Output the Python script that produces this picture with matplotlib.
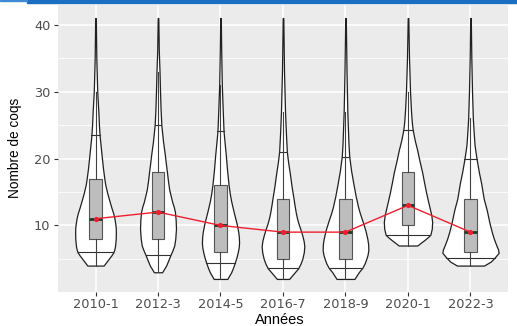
import numpy as np
import matplotlib
matplotlib.use("Agg")
import matplotlib.pyplot as plt
from matplotlib.patches import Rectangle

# ---------------- data ----------------
categories = ["2010-1", "2012-3", "2014-5", "2016-7", "2018-9", "2020-1", "2022-3"]

# violin density profiles: levels (nombre de coqs) and relative density
lev_1 = [4, 4.5, 5, 5.5, 6, 6.5, 7, 8, 8.7, 9.5, 10, 11, 11.8, 12.5, 13.2, 13.9, 14.7,
         15.5, 16.2, 17, 18.5, 20.5, 22, 23.5, 25, 27, 30, 35, 41]
den_1 = [8, 10.5, 13, 15.5, 17.7, 18.7, 19.3, 19.9, 20, 20, 19.7, 18.7, 17.5, 16, 14.6, 13.3, 11.8,
         10.5, 9.5, 8.7, 7.4, 6, 5, 4, 3.4, 2.8, 1.7, 0.8, 0.3]
lev_2 = [3, 3.5, 4, 4.8, 5.6, 6.3, 7, 8, 9.5, 10.8, 12, 12.8, 13.5, 14.5, 15.4, 16.7, 18,
         19.3, 20.6, 22.5, 25, 27.5, 30, 33, 36, 41]
den_2 = [4, 6, 8, 10.2, 12.3, 14.3, 16, 17, 17.7, 17.4, 16.7, 15.5, 14, 12.4, 11, 9.8, 8.8,
         7.7, 6.7, 5, 3.3, 2.5, 2, 1.5, 0.8, 0.3]
lev_3 = [2, 2.5, 3, 3.7, 4.4, 5.2, 6, 6.7, 7.4, 8.2, 9, 10.2, 11.1, 12, 12.9, 13.7, 14.8,
         16, 18.2, 20.4, 22.3, 24.1, 26, 28, 31, 36, 41]
den_3 = [6.7, 8.6, 10.5, 12.4, 14, 15.7, 17, 17.9, 18.3, 18.1, 17.5, 16, 14.5, 13, 11.6, 10.4, 9.1,
         8, 6.5, 5.3, 4.1, 3, 2.5, 2, 1.3, 0.7, 0.3]
lev_4 = [2, 3, 3.6, 4.3, 5, 6, 6.9, 7.7, 8.5, 9.5, 10.4, 11.2, 12, 13, 13.9, 15.8, 17.8,
         19.4, 21, 22.5, 24, 27, 30, 33, 41]
den_4 = [6, 11.6, 15, 17.3, 19, 20.5, 21, 20.3, 19, 17, 15, 13.6, 12.5, 11.4, 10.5, 8.5, 6.7,
         5.1, 3.8, 3.3, 2.8, 2, 1.5, 1, 0.3]
lev_5 = [2, 3, 3.7, 4.3, 5, 5.6, 6.3, 7.2, 8, 9.2, 10.1, 11, 11.8, 12.7, 14.4, 16.2, 18.2,
         20.3, 22, 24, 27, 30, 33, 41]
den_5 = [8.8, 13, 16.7, 18.8, 20.5, 21.7, 22.5, 22.3, 21.5, 19.7, 17.9, 16, 14.2, 12.5, 10, 7.8, 5.5,
         3.7, 3, 2.5, 1.8, 1.4, 1, 0.3]
lev_6 = [7, 7.4, 7.8, 8.2, 8.6, 9.5, 10.5, 11.5, 12.5, 13.6, 14.8, 16.3, 17.9, 19.6, 21.3,
         22.7, 24.2, 25.5, 27, 30, 35, 41]
den_6 = [9.2, 12.5, 16, 19.2, 22, 23.4, 23.8, 23, 21.5, 19.8, 18, 16, 14, 11.4, 9,
         6.7, 4.7, 3.7, 3, 2, 1, 0.3]
lev_7 = [4, 4.6, 5.2, 5.9, 6.4, 7, 8, 9, 10.5, 12.3, 14, 16.3, 18, 19.9, 22, 24.2, 26, 30, 35, 41]
den_7 = [13.3, 20, 23.8, 27.7, 27.2, 25.5, 23, 21, 18.5, 16, 13, 10.5, 8.2, 6, 4, 3, 2.3, 1.5, 0.8, 0.3]

levels = [lev_1, lev_2, lev_3, lev_4, lev_5, lev_6, lev_7]
densities = [den_1, den_2, den_3, den_4, den_5, den_6, den_7]

# quantile lines drawn inside the violins (low / high)
q_low = [6, 5.6, 4.4, 3.6, 3.7, 8.6, 5.2]
q_high = [23.5, 25, 24.1, 21, 20.3, 24.2, 19.9]

# boxplot statistics
q1 = [8, 8, 6, 5, 5, 10, 6]
medians = [11, 12, 10, 9, 9, 13, 9]
q3 = [17, 18, 16, 14, 14, 18, 14]
whis_lo = [4, 3, 2, 2, 2, 7, 4]
whis_hi = [30, 33, 31, 27, 27, 30, 26]

# ---------------- figure ----------------
W, H = 517, 326
fig = plt.figure(figsize=(W / 100, H / 100), dpi=100)
fig.patch.set_facecolor("white")

# blue strip at the very top
fig.patches.append(Rectangle((27 / W, 1 - 2.7 / H), 1 - 27 / W, 2.7 / H,
                             transform=fig.transFigure, color="#1a6fc0", zorder=10))
fig.patches.append(Rectangle((0, 1 - 1.3 / H), 27 / W, 1.3 / H,
                             transform=fig.transFigure, color="#3f8ad6", zorder=10))

left, right, top, bottom = 58, 508, 5, 292
ax = fig.add_axes([left / W, 1 - bottom / H, (right - left) / W, (bottom - top) / H])
ax.set_facecolor("#EBEBEB")
for s in ax.spines.values():
    s.set_visible(False)

pos = np.arange(1, len(categories) + 1)

# violins (scale = area: common density scale, widest = 0.9)
gmax = max(max(d) for d in densities)
scale = 0.45 / gmax
vpstats = []
widths = []
for lv, dn, md in zip(levels, densities, medians):
    lv = np.asarray(lv, float)
    dn = np.asarray(dn, float)
    vpstats.append({"coords": lv, "vals": dn, "mean": md, "median": md,
                    "min": lv.min(), "max": lv.max()})
    widths.append(0.9 * dn.max() / gmax)
parts = ax.violin(vpstats, positions=pos, widths=widths,
                  showmeans=False, showextrema=False, showmedians=False)
for b in parts["bodies"]:
    b.set_facecolor("white")
    b.set_edgecolor("#202020")
    b.set_alpha(1)
    b.set_linewidth(0.9)
    b.set_joinstyle("round")
    b.set_zorder(2)

# quantile lines inside violins
for p, lv, dn, lo, hi in zip(pos, levels, densities, q_low, q_high):
    for q in (lo, hi):
        hw = np.interp(q, lv, dn) * scale
        ax.plot([p - hw, p + hw], [q, q], color="#303030", lw=0.8, zorder=2.5)

# boxplots
bstats = []
for a, m, b, lo, hi in zip(q1, medians, q3, whis_lo, whis_hi):
    bstats.append({"q1": a, "med": m, "q3": b, "whislo": lo, "whishi": hi, "fliers": []})
ax.bxp(bstats, positions=pos, widths=0.2, patch_artist=True, showcaps=False,
       showfliers=False, manage_ticks=False,
       boxprops=dict(facecolor="#BDBDBD", edgecolor="#555555", linewidth=0.8),
       whiskerprops=dict(color="#404040", linewidth=0.8),
       medianprops=dict(color="#1f3a2a", linewidth=2.0),
       zorder=3)

# median line and points
ax.plot(pos, medians, color="#EE2030", lw=1.0, zorder=4)
ax.scatter(pos, medians, s=14, color="#EE2030", zorder=5, linewidths=0)

# axes scales
ymin, ymax = 2, 41
pad = 0.05 * (ymax - ymin)
ax.set_ylim(ymin - pad, ymax + pad)
ax.set_xlim(0.4, len(categories) + 0.6)
ax.set_xticks(pos)
ax.set_xticklabels(categories)
ax.set_yticks([10, 20, 30, 40])
ax.set_yticks([5, 15, 25, 35], minor=True)

ax.grid(True, which="major", color="white", lw=1.1)
ax.grid(True, which="minor", axis="y", color="white", lw=0.55)
ax.set_axisbelow(True)

ax.tick_params(axis="both", which="major", length=3, width=0.8, color="#333333",
               labelcolor="#4D4D4D", labelsize=9.3, pad=1.5)
ax.tick_params(axis="y", which="major", pad=2.5)
ax.tick_params(axis="both", which="minor", length=0)
for lab in ax.get_xticklabels() + ax.get_yticklabels():
    lab.set_family("DejaVu Sans")

fig.text(280 / W, 1 - 324 / H, "Années", ha="center", va="baseline",
         family="Liberation Sans", fontsize=10.5, color="black")
fig.text(15 / W, 1 - 148 / H, "Nombre de coqs", ha="center", va="center",
         rotation=90, family="Liberation Sans", fontsize=9.8, color="black")

fig.savefig("out.png", dpi=100)
